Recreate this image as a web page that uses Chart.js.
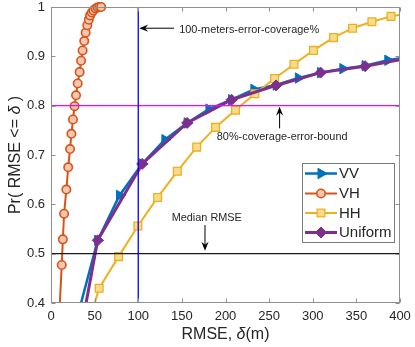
<!DOCTYPE html>
<html>
<head>
<meta charset="utf-8">
<script src="https://cdn.jsdelivr.net/npm/chart.js@4.4.1/dist/chart.umd.min.js"></script>
<style>
  html, body { margin: 0; padding: 0; background: #fff; }
  #chart { display: block; }
</style>
</head>
<body>
<canvas id="chart" width="415" height="347"></canvas>
<script>
// values (points beyond the frame keep the lines running off the edge)
const vvX = [28.0, 53.5, 78.5, 104.5, 130.5, 156.0, 181.0, 207.0, 232.5, 258.0, 283.5, 309.0, 334.5, 360.0, 386.0, 411.5];
const vvY = [0.357, 0.527, 0.618, 0.682, 0.731, 0.765, 0.793, 0.812, 0.833, 0.842, 0.856, 0.867, 0.875, 0.881, 0.892, 0.899];

const vhX = [9.3, 12.3, 13.6, 15.0, 17.6, 19.7, 21.8, 23.4, 25.2, 27.0, 28.7, 30.6, 32.8, 34.5, 36.2, 38.1, 39.7, 41.6, 43.3, 44.8, 46.7, 48.6, 51.0, 53.2, 55.4, 57.5];
const vhY = [0.37, 0.477, 0.529, 0.581, 0.630, 0.675, 0.712, 0.743, 0.772, 0.799, 0.821, 0.845, 0.868, 0.891, 0.912, 0.931, 0.948, 0.963, 0.974, 0.983, 0.989, 0.993, 0.997, 0.999, 1.0, 1.0];

const hhX = [33.0, 55.2, 77.4, 99.6, 122.2, 144.8, 167.0, 188.5, 211.5, 233.7, 256.3, 278.5, 300.8, 323.8, 345.6, 367.8, 389.7, 412.0];
const hhY = [0.30, 0.430, 0.494, 0.556, 0.614, 0.667, 0.716, 0.756, 0.791, 0.824, 0.855, 0.884, 0.912, 0.938, 0.957, 0.970, 0.981, 0.988];

const uniX = [2.5, 53.5, 104.5, 156.0, 207.0, 258.0, 309.0, 360.0, 411.0];
const uniY = [0.04, 0.527, 0.682, 0.765, 0.812, 0.841, 0.867, 0.880, 0.897];

const xTicks = [0, 50, 100, 150, 200, 250, 300, 350, 400];
const yTicks = [0.4, 0.5, 0.6, 0.7, 0.8, 0.9, 1];

const coverageX = 100;   // 100-meters-error-coverage%
const coverageY = 0.8;   // 80%-coverage-error-bound
const medianY = 0.5;     // Median RMSE

const FONT = "'Liberation Sans', Arial, Helvetica, sans-serif";
const TXT = '#262626';

function pts(xs, ys) {
    return xs.map((x, i) => ({ x: x, y: ys[i] }));
}

const series = [
    { label: 'VV', data: pts(vvX, vvY), borderColor: '#0072BD', backgroundColor: '#0072BD',
      borderWidth: 2.5, pointStyle: 'triangle', rotation: 90, pointRadius: 6, pointBorderWidth: 1, order: 5 },
    { label: 'VH', data: pts(vhX, vhY), borderColor: '#D95319', backgroundColor: '#f3c6b0',
      borderWidth: 2, pointStyle: 'circle', pointRadius: 4.2, pointBorderWidth: 1.6, order: 4,
      clip: { left: 0, top: 8, right: 0, bottom: 0 } },
    { label: 'HH', data: pts(hhX, hhY), borderColor: '#EDB120', backgroundColor: '#f8dc8e',
      borderWidth: 2, pointStyle: 'rect', pointRadius: 5.5, pointBorderWidth: 1.3, order: 3 },
    { label: 'Uniform', data: pts(uniX, uniY), borderColor: '#7E2F8E', backgroundColor: '#7E2F8E',
      borderWidth: 3, pointStyle: 'rectRot', pointRadius: 5.5, pointBorderWidth: 1, order: 2 }
];
series.forEach(s => { s.showLine = true; s.tension = 0; if (!s.clip) s.clip = 0; });

const refLines = [
    { label: 'ref-x', data: [{ x: coverageX, y: yTicks[0] }, { x: coverageX, y: 1 }], borderColor: '#0000ff', borderWidth: 1.3 },
    { label: 'ref-80', data: [{ x: xTicks[0], y: coverageY }, { x: 400, y: coverageY }], borderColor: '#ff00ff', borderWidth: 1.2 },
    { label: 'ref-50', data: [{ x: xTicks[0], y: medianY }, { x: 400, y: medianY }], borderColor: '#1a1a1a', borderWidth: 1.2 }
];
refLines.forEach(s => { s.showLine = true; s.pointRadius = 0; s.order = 1; s.clip = 0; });

function arrow(ctx, x1, y1, x2, y2) {
    const ang = Math.atan2(y2 - y1, x2 - x1);
    const len = 9, half = 3.6;
    ctx.beginPath();
    ctx.moveTo(x1, y1);
    ctx.lineTo(x2 - Math.cos(ang) * len * 0.6, y2 - Math.sin(ang) * len * 0.6);
    ctx.stroke();
    ctx.beginPath();
    ctx.moveTo(x2, y2);
    ctx.lineTo(x2 - Math.cos(ang) * len - Math.sin(ang) * half, y2 - Math.sin(ang) * len + Math.cos(ang) * half);
    ctx.lineTo(x2 - Math.cos(ang) * len * 0.65, y2 - Math.sin(ang) * len * 0.65);
    ctx.lineTo(x2 - Math.cos(ang) * len + Math.sin(ang) * half, y2 - Math.sin(ang) * len - Math.cos(ang) * half);
    ctx.closePath();
    ctx.fill();
}

// text with an italic delta in it
function mixedText(ctx, parts, cx, cy, size) {
    let total = 0;
    parts.forEach(p => {
        ctx.font = (p[1] ? 'italic ' : '') + size + 'px ' + FONT;
        total += ctx.measureText(p[0]).width;
    });
    let x = cx - total / 2;
    ctx.textAlign = 'left';
    ctx.textBaseline = 'middle';
    parts.forEach(p => {
        ctx.font = (p[1] ? 'italic ' : '') + size + 'px ' + FONT;
        ctx.fillText(p[0], x, cy);
        x += ctx.measureText(p[0]).width;
    });
}

const decor = {
    id: 'decor',
    afterDatasetsDraw(chart) {
        const { ctx, chartArea: a, scales: { x, y } } = chart;
        ctx.save();

        // frame + inward ticks
        ctx.strokeStyle = '#8f8f8f';
        ctx.lineWidth = 1;
        const L = Math.round(a.left) + 0.5, R = Math.round(a.right) - 0.5;
        const T = Math.round(a.top) + 0.5, B = Math.round(a.bottom) - 0.5;
        ctx.strokeRect(L, T, R - L, B - T);
        ctx.beginPath();
        xTicks.forEach(v => {
            const px = Math.round(x.getPixelForValue(v)) + 0.5;
            ctx.moveTo(px, B); ctx.lineTo(px, B - 4);
            ctx.moveTo(px, T); ctx.lineTo(px, T + 4);
        });
        yTicks.forEach(v => {
            const py = Math.round(y.getPixelForValue(v)) + 0.5;
            ctx.moveTo(L, py); ctx.lineTo(L + 4, py);
            ctx.moveTo(R, py); ctx.lineTo(R - 4, py);
        });
        ctx.stroke();

        // annotations
        ctx.fillStyle = '#000';
        ctx.strokeStyle = '#000';
        ctx.lineWidth = 1;
        arrow(ctx, x.getPixelForValue(141), y.getPixelForValue(0.957), x.getPixelForValue(coverageX) + 1, y.getPixelForValue(0.957));
        arrow(ctx, x.getPixelForValue(262), y.getPixelForValue(0.754), x.getPixelForValue(262), y.getPixelForValue(coverageY) + 1);
        arrow(ctx, x.getPixelForValue(176.5), y.getPixelForValue(0.558), x.getPixelForValue(176.5), y.getPixelForValue(medianY) - 3);

        ctx.fillStyle = TXT;
        ctx.font = '10.9px ' + FONT;
        ctx.textAlign = 'left';
        ctx.textBaseline = 'middle';
        ctx.fillText('100-meters-error-coverage%', x.getPixelForValue(147), y.getPixelForValue(0.954));
        ctx.fillText('80%-coverage-error-bound', x.getPixelForValue(190), y.getPixelForValue(0.736));
        ctx.fillText('Median RMSE', x.getPixelForValue(138.3), y.getPixelForValue(0.572));

        // legend
        const lx = 302, ly = 163, lw = 92, lh = 79;
        ctx.fillStyle = '#fff';
        ctx.fillRect(lx, ly, lw, lh);
        ctx.strokeStyle = '#7a7a7a';
        ctx.strokeRect(lx + 0.5, ly + 0.5, lw, lh);
        const rows = [173.5, 193.5, 213, 232.5];
        series.forEach((s, i) => {
            const yy = rows[i];
            ctx.strokeStyle = s.borderColor;
            ctx.lineWidth = s.borderWidth;
            ctx.beginPath();
            ctx.moveTo(305, yy); ctx.lineTo(337, yy);
            ctx.stroke();
            ctx.fillStyle = s.backgroundColor;
            ctx.lineWidth = s.pointBorderWidth;
            Chart.helpers.drawPoint(ctx, { pointStyle: s.pointStyle, rotation: s.rotation || 0, radius: s.pointRadius, borderWidth: s.pointBorderWidth }, 321, yy);
            ctx.fillStyle = TXT;
            ctx.font = '15px ' + FONT;
            ctx.textAlign = 'left';
            ctx.textBaseline = 'middle';
            ctx.fillText(s.label, 339, yy + 0.5);
        });
        ctx.restore();
    },
    afterDraw(chart) {
        const { ctx, chartArea: a } = chart;
        ctx.save();
        ctx.fillStyle = TXT;
        mixedText(ctx, [['RMSE, ', false], ['δ', true], ['(m)', false]], (a.left + a.right) / 2, 335, 16);
        ctx.translate(16, (a.top + a.bottom) / 2);
        ctx.rotate(-Math.PI / 2);
        mixedText(ctx, [['Pr( RMSE <= ', false], ['δ', true], [' )', false]], 0, 0, 16);
        ctx.restore();
    }
};

new Chart(document.getElementById('chart').getContext('2d'), {
    type: 'line',
    data: { datasets: series.concat(refLines) },
    options: {
        responsive: false,
        animation: false,
        events: [],
        layout: { padding: { top: 6, right: 15, left: 0, bottom: 0 } },
        plugins: { legend: { display: false }, tooltip: { enabled: false } },
        scales: {
            x: {
                type: 'linear', min: 0, max: 400,
                afterBuildTicks: s => { s.ticks = xTicks.map(v => ({ value: v })); },
                ticks: { color: TXT, font: { family: FONT, size: 13 }, padding: 6, maxRotation: 0, autoSkip: false },
                grid: { display: false, drawTicks: false },
                border: { display: false },
                afterFit: s => { s.height = 44; s.paddingLeft = 0; s.paddingRight = 0; }
            },
            y: {
                type: 'linear', min: 0.4, max: 1,
                afterBuildTicks: s => { s.ticks = yTicks.map(v => ({ value: v })); },
                ticks: { color: TXT, font: { family: FONT, size: 13 }, padding: 6,
                         callback: v => (v === 1 ? '1' : v.toFixed(1)) },
                grid: { display: false, drawTicks: false },
                border: { display: false },
                afterFit: s => { s.width = 51; s.paddingTop = 0; s.paddingBottom = 0; }
            }
        }
    },
    plugins: [decor]
});
</script>
</body>
</html>
